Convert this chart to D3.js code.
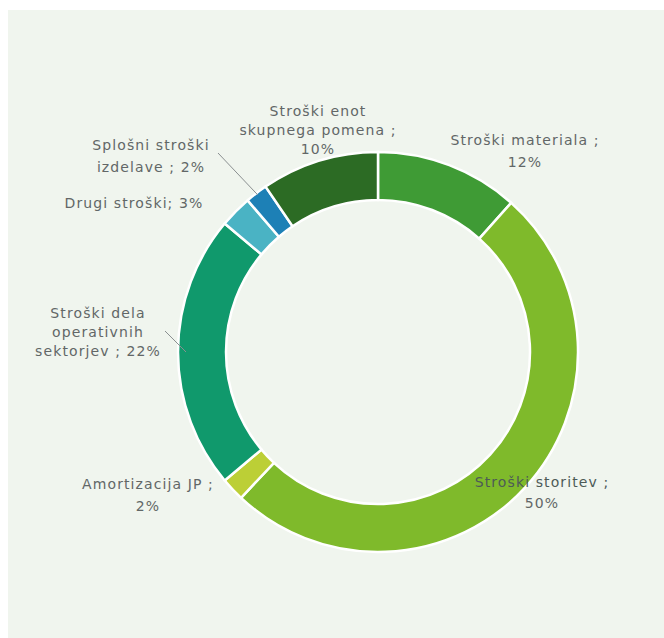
<!DOCTYPE html>
<html>
<head>
<meta charset="utf-8">
<script src="https://cdn.jsdelivr.net/npm/d3@7"></script>
<style>
  html, body { margin: 0; padding: 0; background: #ffffff; }
  svg { display: block; }
</style>
</head>
<body>
<script>
// ---- data ----
const categories = [
  "Stroški materiala",
  "Stroški storitev",
  "Amortizacija JP",
  "Stroški dela operativnih sektorjev",
  "Drugi stroški",
  "Splošni stroški izdelave",
  "Stroški enot skupnega pomena"
];
const shares = [11.6, 50.4, 1.9, 22.2, 2.6, 1.8, 9.5];
const percentLabels = ["12%", "50%", "2%", "22%", "3%", "2%", "10%"];
const labelLines = [
  ["Stroški materiala ;", "12%"],
  ["Stroški storitev ;", "50%"],
  ["Amortizacija JP ;", "2%"],
  ["Stroški dela", "operativnih", "sektorjev ; 22%"],
  ["Drugi stroški; 3%"],
  ["Splošni stroški", "izdelave ; 2%"],
  ["Stroški enot", "skupnega pomena ;", "10%"]
];
const colors = ["#3f9b35", "#7fba2b", "#bccf36", "#10996c", "#4ab3c4", "#1d80b6", "#2c6b24"];

// ---- layout ----
const W = 664, H = 638;
const cx = 378, cy = 352, R = 200, r = 152;
// label anchor: center x, first-line center y, line spacing
const labelPos = [
  [525, 140, 22], [542, 482, 21], [148, 484, 22], [98, 313, 19], [134, 203, 20], [151, 145, 22], [318, 111, 19]
];

const svg = d3.select("body").append("svg").attr("width", W).attr("height", H);
svg.append("rect").attr("x", 8).attr("y", 10).attr("width", W - 8).attr("height", H - 10)
  .attr("fill", "#f0f5ee");

const pie = d3.pie().sort(null).value(d => d)(shares);
const arc = d3.arc().innerRadius(r).outerRadius(R);

const g = svg.append("g").attr("transform", `translate(${cx},${cy})`);
g.selectAll("path.slice").data(pie).join("path")
  .attr("class", "slice")
  .attr("d", arc)
  .attr("fill", (d, i) => colors[i])
  .attr("stroke", "#ffffff")
  .attr("stroke-width", 2.5);

// leader lines for two labels
const leaderStart = {5: [218, 153], 3: [165, 331]};
Object.keys(leaderStart).forEach(k => {
  const i = +k;
  const d = pie[i];
  const a = (d.startAngle + d.endAngle) / 2;
  const rr = i === 5 ? R - 2 : R - 8;
  const ex = cx + rr * Math.sin(a), ey = cy - rr * Math.cos(a);
  svg.append("line")
    .attr("x1", leaderStart[i][0]).attr("y1", leaderStart[i][1])
    .attr("x2", ex).attr("y2", ey)
    .attr("stroke", "#8a8f90").attr("stroke-width", 1);
});

// labels
const lg = svg.append("g")
  .attr("font-family", "'DejaVu Sans', sans-serif")
  .attr("font-size", 14)
  .attr("letter-spacing", 1.1)
  .attr("fill", "#626767")
  .attr("text-anchor", "middle");
labelLines.forEach((lines, i) => {
  const [x, y, lh] = labelPos[i];
  lines.forEach((t, k) => {
    lg.append("text")
      .attr("x", x).attr("y", y + k * lh)
      .attr("dominant-baseline", "central")
      .attr("fill", i === 1 && k === 0 ? "#4d5a57" : "#626767")
      .text(t);
  });
});
</script>
</body>
</html>
